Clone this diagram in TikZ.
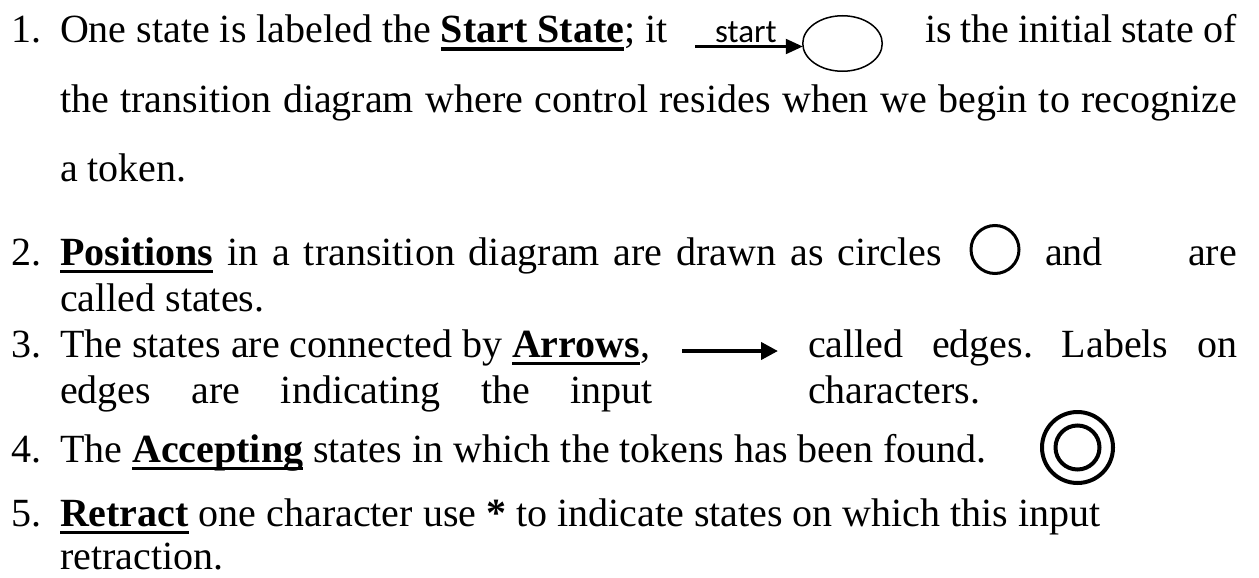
\documentclass[tikz,border=0pt]{standalone}
\usepackage{fontspec}
\setmainfont{Liberation Serif}
\newfontfamily\calib{Carlito}
\usetikzlibrary{arrows.meta,shapes.geometric}
\newcommand\myul[1]{\setbox0\hbox{#1}\rlap{\rule[-8pt]{\wd0}{3.5pt}}\box0\relax}
\frenchspacing
\begin{document}
\begin{tikzpicture}[x=1pt,y=-1pt,
  txt/.style={anchor=base west,inner sep=0pt,outer sep=0pt,font=\fontsize{40pt}{46pt}\selectfont\frenchspacing},
  num/.style={txt},
  state/.style={draw,circle,inner sep=0pt,outer sep=0pt,line width=3pt},
  edgearrow/.style={line width=4pt,-{Triangle[length=17pt,width=17pt]}}]
\useasboundingbox (0,0) rectangle (1259,578);
% item 1
\node[num] (n1) at (11,43) {1.};
\node[txt] (l1a) at (60,43) {One state is labeled the \myul{\textbf{Start State}}; it};
\node[draw,ellipse,inner sep=0pt,outer sep=0pt,line width=1.5pt,minimum width=79.5pt,minimum height=55.5pt] (st) at (842.5,43.5) {};
\coordinate (sa) at (695,46.5);
\draw[line width=2.3pt,-{Triangle[length=17pt,width=15pt]}] (sa) -- (sa -| st.west);
\node[anchor=base west,inner sep=0pt,font=\calib\fontsize{33pt}{36pt}\selectfont] (stl) at (715,43) {start};
\node[txt] (l1b) at (925,43) {\makebox[312pt][s]{is the initial state of}};
\node[txt] (l2) at (60,112) {\makebox[1177pt][s]{the transition diagram where control resides when we begin to recognize}};
\node[txt] (l3) at (60,181) {a token.};
% item 2
\node[num] (n2) at (11,265) {2.};
\node[txt] (p2a) at (60,265) {\makebox[882pt][s]{\myul{\textbf{Positions}} in a transition diagram are drawn as circles}};
\node[state,minimum size=48pt] (c2) at (995,249.5) {};
\node[txt] (p2b) at (1045,265) {and};
\node[txt,anchor=base east] (p2c) at (1237,265) {are};
\node[txt] (p2d) at (60,311) {called states.};
% item 3
\node[num] (n3) at (11,357) {3.};
\node[txt] (p3a) at (60,357) {The states are connected by \myul{\textbf{Arrows}},};
\coordinate (a3s) at (682,351);
\coordinate (a3e) at (778,351);
\draw[edgearrow] (a3s) -- (a3e);
\node[txt] (p3b) at (808,357) {\makebox[429pt][s]{called edges. Labels on}};
\node[txt] (p3c) at (60,403) {\makebox[593pt][s]{edges are indicating the input}};
\node[txt] (p3d) at (808,403) {characters.};
% item 4
\node[num] (n4) at (11,462) {4.};
\node[txt] (p4a) at (60,462) {The \myul{\textbf{Accepting}} states in which the tokens has been found.};
\node[state,line width=4pt,minimum size=71pt] (c4o) at (1077.5,447.5) {};
\node[state,line width=4pt,minimum size=44pt] (c4i) at (1077.5,447.5) {};
% item 5
\node[num] (n5) at (11,526) {5.};
\node[txt] (p5a) at (60,526) {\myul{\textbf{Retract}} one character use \textbf{*} to indicate states on which this input};
\node[txt] (p5b) at (60,569) {retraction.};
\end{tikzpicture}
\end{document}
